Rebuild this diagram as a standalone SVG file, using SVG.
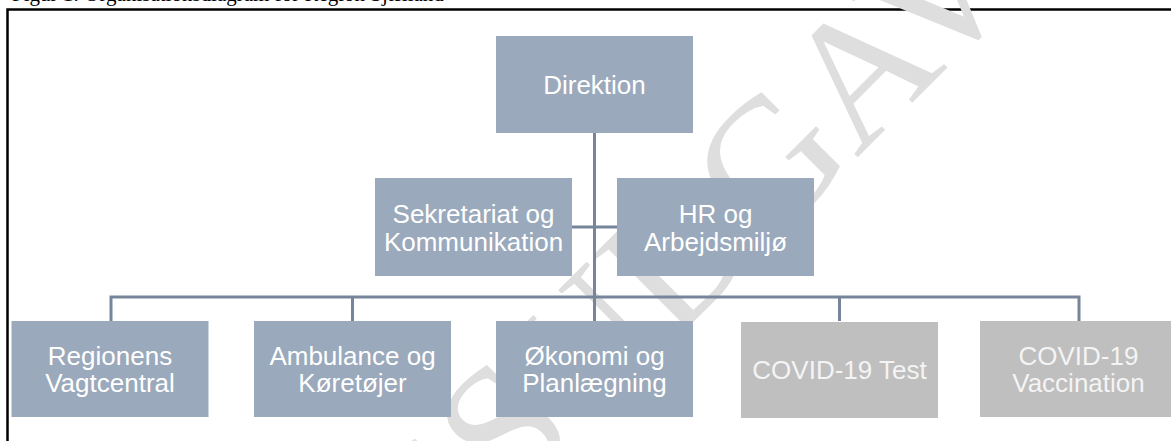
<svg xmlns="http://www.w3.org/2000/svg" width="1171" height="441" viewBox="0 0 1171 441">
  <style>
    .node { fill: #9aa9bb; }
    .node-grey { fill: #bfbfbf; }
    .label { font-family: "Liberation Sans", Arial, sans-serif; font-size: 26px; fill: #ffffff; text-anchor: middle; }
    .label-grey { font-family: "Liberation Sans", Arial, sans-serif; font-size: 26px; fill: #f4f4f4; text-anchor: middle; }
    .conn { stroke: #77859a; stroke-width: 3; fill: none; }
    .frame { stroke: #000000; stroke-width: 2.5; fill: none; }
    .watermark { font-family: "Liberation Serif", "Times New Roman", serif; font-size: 180px; fill: #dedede; }
    .caption { font-family: "Liberation Serif", "Times New Roman", serif; font-size: 21px; fill: #000000; }
  </style>
  <rect x="0" y="0" width="1171" height="441" fill="#ffffff"/>
  <text class="caption" x="12" y="1">Figur 1: Organisationsdiagram for Region Sjælland</text>
  <path class="frame" d="M7.5,441 V9.5 H1171"/>
  <text class="watermark" transform="translate(15,1000) rotate(-45)">HØRINGSUDGAVE</text>

  <g id="connectors">
    <path class="conn" d="M594.5,133 V321"/>
    <path class="conn" d="M572,227 H617"/>
    <path class="conn" d="M111,321 V297 H1079 V321"/>
    <path class="conn" d="M352.5,297 V321"/>
    <path class="conn" d="M839.5,297 V321"/>
  </g>

  <g id="node-direktion">
    <rect class="node" x="496" y="36" width="197" height="97"/>
    <text class="label" x="594.5" y="94">Direktion</text>
  </g>
  <g id="node-sekretariat">
    <rect class="node" x="375" y="178" width="197" height="98"/>
    <text class="label" x="473.5" y="223">Sekretariat og</text>
    <text class="label" x="473.5" y="251">Kommunikation</text>
  </g>
  <g id="node-hr">
    <rect class="node" x="617" y="178" width="197" height="98"/>
    <text class="label" x="715.5" y="223">HR og</text>
    <text class="label" x="715.5" y="251">Arbejdsmiljø</text>
  </g>
  <g id="node-regionens">
    <rect class="node" x="11.5" y="321" width="197" height="96"/>
    <text class="label" x="110" y="365">Regionens</text>
    <text class="label" x="110" y="392">Vagtcentral</text>
  </g>
  <g id="node-ambulance">
    <rect class="node" x="254" y="321" width="197" height="96"/>
    <text class="label" x="352.5" y="365">Ambulance og</text>
    <text class="label" x="352.5" y="392">Køretøjer</text>
  </g>
  <g id="node-oekonomi">
    <rect class="node" x="496" y="321" width="197" height="96"/>
    <text class="label" x="594.5" y="365">Økonomi og</text>
    <text class="label" x="594.5" y="392">Planlægning</text>
  </g>
  <g id="node-covid-test">
    <rect class="node-grey" x="741" y="322" width="197" height="96"/>
    <text class="label-grey" x="839.5" y="379">COVID-19 Test</text>
  </g>
  <g id="node-covid-vacc">
    <rect class="node-grey" x="980" y="321" width="197" height="96"/>
    <text class="label-grey" x="1078.5" y="365">COVID-19</text>
    <text class="label-grey" x="1078.5" y="392">Vaccination</text>
  </g>
</svg>
